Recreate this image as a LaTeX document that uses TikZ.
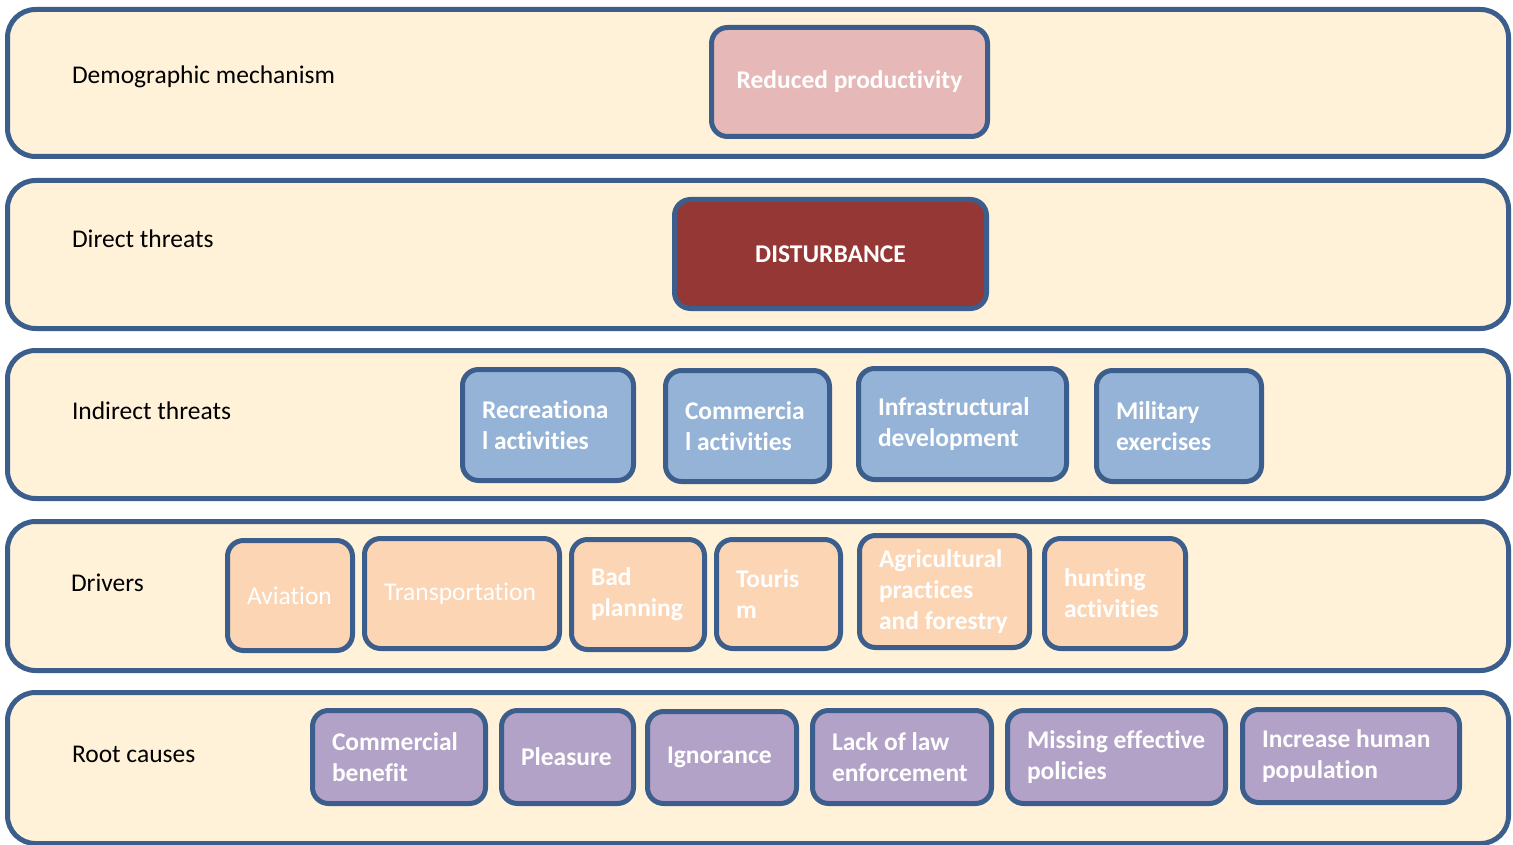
\documentclass[tikz,border=0pt]{standalone}
\usepackage{fontspec}
\setmainfont{Carlito}[Ligatures=NoCommon]
\definecolor{bandfill}{HTML}{FFF2D9}
\definecolor{edge}{HTML}{3B5E8C}
\definecolor{pinkfill}{HTML}{E6B8B7}
\definecolor{redfill}{HTML}{953735}
\definecolor{bluefill}{HTML}{95B3D7}
\definecolor{peachfill}{HTML}{FCD5B5}
\definecolor{purplefill}{HTML}{B2A2C7}
\tikzset{
  band/.style={draw=edge, line width=5pt, fill=bandfill, rounded corners=28pt, inner sep=0pt},
  box/.style={draw=edge, line width=5pt, rounded corners=16pt, inner sep=0pt},
  bandlabel/.style={anchor=west, inner sep=0pt, outer sep=0pt, font=\fontsize{25.5}{31}\selectfont, text=black},
  btext/.style={anchor=west, inner sep=0pt, outer sep=0pt, align=left, text=white, font=\fontsize{25.5}{31}\selectfont\bfseries},
  rtext/.style={btext, font=\fontsize{25.5}{31}\selectfont},
}
% name, x1, y1, x2, y2, fill, text style, text
\newcommand\tbox[8]{%
  \node[box, fill=#6, minimum width={#4-#2-5}, minimum height={#5-#3-5}] (#1) at ({(#2+#4)/2},{(#3+#5)/2}) {};
  \node[#7] (#1-t) at ([xshift=22pt]#1.west) {#8};
}
\newcommand\bandbox[3]{%
  \node[band, minimum width={1511-5-5}, minimum height={#3-#2-5}] (#1) at (758,{(#2+#3)/2}) {};
}
\begin{document}
\begin{tikzpicture}[x=1pt, y=-1pt]
\useasboundingbox (0,0) rectangle (1513,845);
% bands
\bandbox{b1}{7}{159}
\bandbox{b2}{178}{331}
\bandbox{b3}{348}{501}
\bandbox{b4}{519}{673}
\bandbox{b5}{690}{846}
% band labels
\node[bandlabel] (l1) at (72,77) {Demographic mechanism};
\node[bandlabel] (l2) at (72,239) {Direct threats};
\node[bandlabel] (l3) at (72,411) {Indirect threats};
\node[bandlabel] (l4) at (71,583) {Drivers};
\node[bandlabel] (l5) at (72,754) {Root causes};
% demographic mechanism
\node[box, fill=pinkfill, minimum width={990-709-5}, minimum height={139-25-5}, text=white, font=\fontsize{25.5}{31}\selectfont\bfseries] (rp) at ({(709+990)/2},{(25+139)/2}) {Reduced productivity};
% direct threats
\node[box, fill=redfill, minimum width={989-672-5}, minimum height={311-197-5}, text=white, font=\fontsize{25.5}{31}\selectfont\bfseries] (dist) at ({(672+989)/2},{(197+311)/2}) {DISTURBANCE};
% indirect threats
\tbox{i1}{460}{367}{636}{483}{bluefill}{btext}{Recreationa\\l activities}
\tbox{i2}{663}{368}{832}{484}{bluefill}{btext}{Commercia\\l activities}
\tbox{i3}{856}{366}{1069}{482}{bluefill}{btext}{Infrastructural\\development}
\tbox{i4}{1094}{368}{1264}{484}{bluefill}{btext}{Military\\exercises}
% drivers
\tbox{d1}{225}{538}{355}{653}{peachfill}{rtext}{Aviation}
\tbox{d2}{362}{536}{562}{651}{peachfill}{rtext}{Transportation}
\tbox{d3}{569}{537}{707}{652}{peachfill}{btext}{Bad\\planning}
\tbox{d4}{714}{537}{843}{651}{peachfill}{btext}{Touris\\m}
\tbox{d5}{857}{533}{1032}{650}{peachfill}{btext}{Agricultural\\practices\\and forestry}
\tbox{d6}{1042}{536}{1188}{651}{peachfill}{btext}{hunting\\activities}
% root causes
\tbox{r1}{310}{708}{488}{806}{purplefill}{btext}{Commercial\\benefit}
\tbox{r2}{499}{708}{636}{806}{purplefill}{btext}{Pleasure}
\tbox{r3}{645}{709}{799}{806}{purplefill}{btext}{Ignorance}
\tbox{r4}{810}{708}{994}{806}{purplefill}{btext}{Lack of law\\enforcement}
\tbox{r5}{1005}{708}{1228}{806}{purplefill}{btext}{Missing effective\\policies}
\tbox{r6}{1240}{707}{1462}{805}{purplefill}{btext}{Increase human\\population}
\end{tikzpicture}
\end{document}
